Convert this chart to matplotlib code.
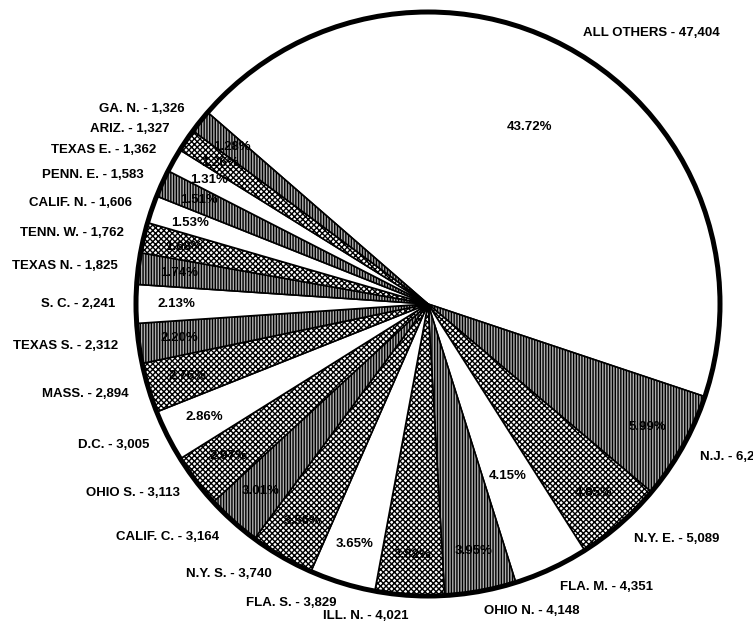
import matplotlib
matplotlib.use("Agg")
import matplotlib.pyplot as plt
from matplotlib.patches import Circle
import numpy as np

# slices, clockwise from the big "ALL OTHERS" slice
names = ["ALL OTHERS", "N.J.", "N.Y. E.", "FLA. M.", "OHIO N.", "ILL. N.",
         "FLA. S.", "N.Y. S.", "CALIF. C.", "OHIO S.", "D.C.", "MASS.",
         "TEXAS S.", "S. C.", "TEXAS N.", "TENN. W.", "CALIF. N.", "PENN. E.",
         "TEXAS E.", "ARIZ.", "GA. N."]
counts = ["47,404", "6,287", "5,089", "4,351", "4,148", "4,021",
          "3,829", "3,740", "3,164", "3,113", "3,005", "2,894",
          "2,312", "2,241", "1,825", "1,762", "1,606", "1,583",
          "1,362", "1,327", "1,326"]
pcts = [43.72, 5.99, 4.85, 4.15, 3.95, 3.82,
        3.65, 3.56, 3.01, 2.97, 2.86, 2.76,
        2.20, 2.13, 1.74, 1.68, 1.53, 1.51,
        1.31, 1.26, 1.28]
fills = ["white", "hatch", "dot", "white", "hatch", "dot",
         "white", "dot", "hatch", "dot", "white", "dot",
         "hatch", "white", "hatch", "dot", "white", "hatch",
         "white", "dot", "hatch"]

W, H = 753, 634
cx, cy, R = 428, 304, 292   # pie centre and radius in pixels

font = dict(family="Liberation Sans", fontsize=9.5, fontweight="bold")
plt.rcParams["hatch.linewidth"] = 1.0

fig = plt.figure(figsize=(W / 100, H / 100), dpi=100)
ax = fig.add_axes([0, 0, 1, 1])

labels = [f"{n} - {c}" for n, c in zip(names, counts)]
wedges, texts = ax.pie(pcts, labels=labels, startangle=139,
                       counterclock=False, labeldistance=1.07,
                       wedgeprops=dict(edgecolor="black", linewidth=1.2),
                       textprops=font)

for w, f in zip(wedges, fills):
    w.set_facecolor("white")
    if f == "hatch":
        w.set_facecolor("#b0b0b0")
        w.set_hatch("||||||")
    elif f == "dot":
        w.set_hatch("xxxxxx")

# percentage labels inside the wedges
pct_r = {0: 0.70, 3: 0.65}
for i, (w, p) in enumerate(zip(wedges, pcts)):
    mid = np.deg2rad((w.theta1 + w.theta2) / 2)
    r = pct_r.get(i, 0.86)
    ax.text(r * np.cos(mid), r * np.sin(mid), f"{p:.2f}%",
            ha="center", va="center", **font)

ax.add_patch(Circle((0, 0), 1, fill=False, edgecolor="black", linewidth=3.6))

ax.set_xlim(-cx / R, (W - cx) / R)
ax.set_ylim(-(H - cy) / R, cy / R)
ax.set_aspect("equal")
ax.axis("off")

fig.savefig("out.png", dpi=100, facecolor="white")
